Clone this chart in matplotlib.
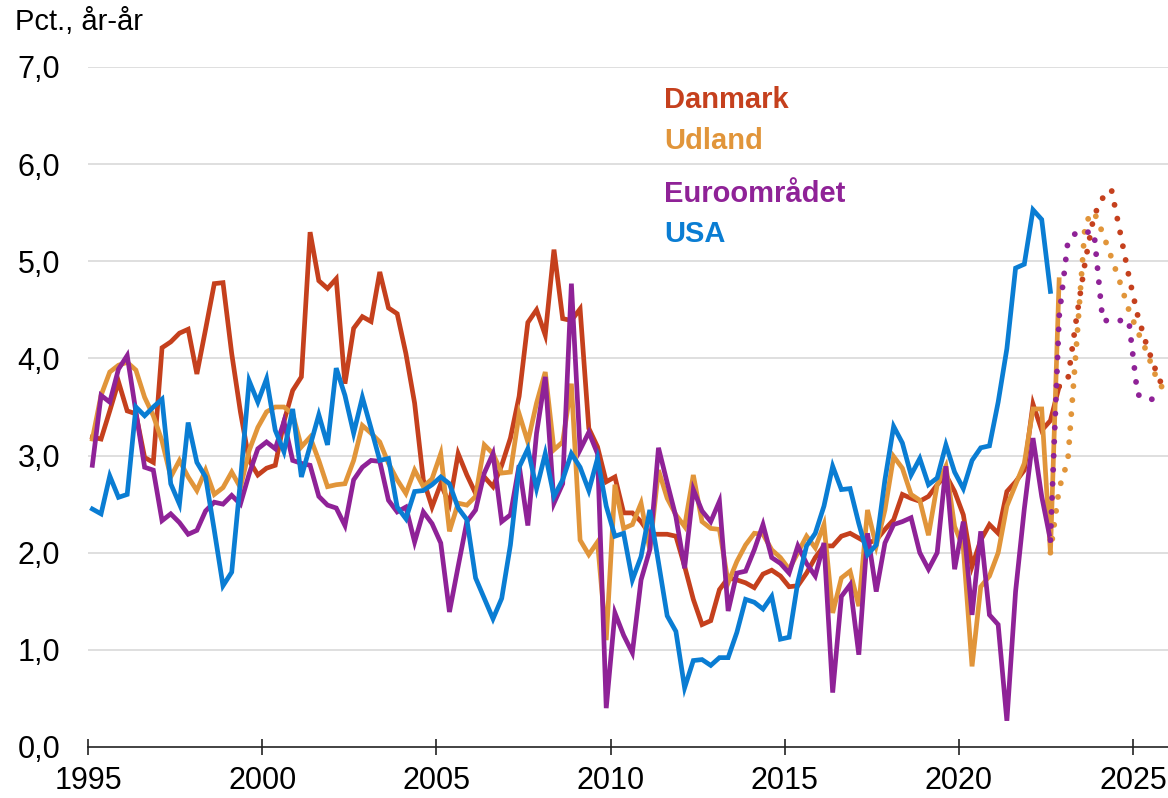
import numpy as np
import matplotlib.pyplot as plt

plt.rcParams['font.family'] = ['Liberation Sans', 'DejaVu Sans']

# kvartalsvise vaekstrater, 1995K1 og frem
danmark = [3.19, 3.17, 3.46, 3.76, 3.46, 3.43, 2.98, 2.93, 4.11, 4.17,
           4.26, 4.30, 3.84, 4.30, 4.77, 4.78, 4.05, 3.45, 2.95, 2.80,
           2.87, 2.90, 3.35, 3.67, 3.81, 5.30, 4.80, 4.72, 4.82, 3.74,
           4.31, 4.43, 4.38, 4.89, 4.52, 4.46, 4.05, 3.54, 2.75, 2.47,
           2.71, 2.50, 3.02, 2.80, 2.61, 2.78, 2.68, 2.90, 3.18, 3.61,
           4.37, 4.50, 4.24, 5.12, 4.41, 4.39, 4.51, 3.28, 3.09, 2.73,
           2.78, 2.41, 2.41, 2.32, 2.19, 2.19, 2.19, 2.17, 1.86, 1.52,
           1.26, 1.30, 1.62, 1.74, 1.72, 1.69, 1.64, 1.78, 1.82, 1.76,
           1.65, 1.66, 1.79, 1.95, 2.07, 2.07, 2.17, 2.20, 2.15, 2.10,
           2.13, 2.24, 2.34, 2.60, 2.56, 2.53, 2.58, 2.70, 2.80, 2.63,
           2.39, 1.86, 2.13, 2.29, 2.20, 2.63, 2.73, 2.85, 3.53, 3.26,
           3.36, 3.71]
udland = [3.17, 3.62, 3.86, 3.93, 3.96, 3.88, 3.60, 3.41, 3.15, 2.78,
          2.95, 2.78, 2.64, 2.85, 2.60, 2.67, 2.83, 2.67, 3.05, 3.29,
          3.45, 3.50, 3.50, 3.43, 3.09, 3.19, 2.95, 2.68, 2.70, 2.71,
          2.95, 3.31, 3.23, 3.14, 2.92, 2.75, 2.61, 2.85, 2.68, 2.76,
          3.02, 2.22, 2.51, 2.49, 2.58, 3.11, 3.02, 2.82, 2.83, 3.43,
          3.14, 3.54, 3.86, 3.06, 3.14, 3.74, 2.13, 1.98, 2.11, 1.10,
          2.70, 2.25, 2.29, 2.51, 2.03, 2.85, 2.56, 2.39, 2.27, 2.80,
          2.32, 2.25, 2.24, 1.69, 1.91, 2.08, 2.20, 2.19, 2.03, 1.95,
          1.83, 2.00, 2.17, 2.05, 2.29, 1.38, 1.74, 1.81, 1.45, 2.44,
          2.07, 2.44, 2.99, 2.87, 2.60, 2.54, 2.18, 2.70, 2.89, 2.27,
          2.05, 0.83, 1.65, 1.76, 2.00, 2.48, 2.70, 2.92, 3.48, 3.48,
          2.00, 4.81]
euro = [2.90, 3.62, 3.55, 3.89, 4.03, 3.45, 2.88, 2.85, 2.33, 2.40,
        2.31, 2.19, 2.23, 2.43, 2.52, 2.50, 2.59, 2.50, 2.81, 3.07,
        3.14, 3.07, 3.35, 2.95, 2.92, 2.90, 2.58, 2.49, 2.46, 2.28,
        2.75, 2.88, 2.95, 2.94, 2.54, 2.42, 2.47, 2.11, 2.42, 2.30,
        2.10, 1.39, 1.86, 2.32, 2.44, 2.82, 3.02, 2.32, 2.39, 2.90,
        2.28, 3.23, 3.81, 2.51, 2.71, 4.77, 3.06, 3.24, 3.02, 0.40,
        1.38, 1.15, 0.97, 1.72, 2.03, 3.08, 2.72, 2.37, 1.84, 2.65,
        2.43, 2.32, 2.53, 1.40, 1.79, 1.81, 2.03, 2.29, 1.95, 1.89,
        1.79, 2.07, 1.89, 1.76, 2.10, 0.56, 1.55, 1.67, 0.95, 2.20,
        1.60, 2.10, 2.29, 2.32, 2.36, 2.00, 1.83, 2.00, 2.89, 1.83,
        2.32, 1.36, 2.22, 1.36, 1.26, 0.27, 1.60, 2.45, 3.18, 2.58,
        2.13]
usa = [2.45, 2.40, 2.79, 2.57, 2.60, 3.50, 3.41, 3.50, 3.58, 2.71,
       2.50, 3.34, 2.93, 2.78, 2.23, 1.66, 1.80, 2.74, 3.77, 3.55,
       3.79, 3.26, 3.04, 3.48, 2.78, 3.10, 3.42, 3.11, 3.90, 3.62,
       3.23, 3.60, 3.28, 2.95, 2.97, 2.47, 2.35, 2.63, 2.64, 2.70,
       2.78, 2.71, 2.46, 2.34, 1.74, 1.53, 1.32, 1.53, 2.08, 2.88,
       3.07, 2.66, 3.02, 2.58, 2.75, 3.02, 2.88, 2.64, 2.97, 2.48,
       2.17, 2.20, 1.72, 1.96, 2.44, 1.90, 1.35, 1.19, 0.61, 0.89,
       0.90, 0.84, 0.92, 0.92, 1.18, 1.52, 1.49, 1.42, 1.55, 1.11,
       1.13, 1.70, 2.07, 2.20, 2.48, 2.89, 2.65, 2.66, 2.30, 1.98,
       2.08, 2.75, 3.30, 3.13, 2.80, 2.97, 2.70, 2.77, 3.11, 2.83,
       2.66, 2.95, 3.08, 3.10, 3.55, 4.10, 4.93, 4.97, 5.53, 5.43,
       4.69]

# prognoser (stiplede), startkvartal angivet som indeks fra 1995K1
danmark_prog_start = 111
danmark_prog = [3.71, 3.78, 4.42, 5.00, 5.47, 5.65, 5.74, 5.30, 4.85,
                4.45, 4.15, 3.90, 3.68]
udland_prog_start = 110
udland_prog = [2.00, 2.66, 2.95, 4.15, 5.40, 5.51, 5.29, 5.04, 4.78,
               4.50, 4.28, 4.08, 3.84, 3.67]
euro_prog_start = 110
euro_prog = [2.13, 4.43, 5.20, 5.30, 5.30, 5.30, 4.39, 4.39, 4.39,
             4.39, 3.63, 3.58, 3.58]

names = ['Danmark', 'Udland', 'Euroområdet', 'USA']
colors = ['#C5401D', '#E1953A', '#8F2297', '#0A7DD3']
year_ticks = [1995, 2000, 2005, 2010, 2015, 2020, 2025]


def qx(start, n):
    # kvartal -> decimalaar, midt i kvartalet
    return 1995 + 0.125 + 0.25 * (start + np.arange(n))


fig = plt.figure(figsize=(11.68, 7.98), dpi=100)
ax = fig.add_axes([88 / 1168, 51 / 798, 1080 / 1168, 680 / 798])

for y in range(1, 8):
    ax.axhline(y, color='#d9d9d9', lw=1.2, zorder=0)

solid = [danmark, udland, euro, usa]
for vals, c in zip(solid, colors):
    ax.plot(qx(0, len(vals)), vals, color=c, lw=3.4,
            solid_joinstyle='miter', zorder=2)

prog = [(danmark_prog_start, danmark_prog, colors[0]),
        (udland_prog_start, udland_prog, colors[1]),
        (euro_prog_start, euro_prog, colors[2])]
for start, vals, c in prog:
    ax.plot(qx(start, len(vals)), vals, color=c, lw=4.2,
            linestyle=(0, (0.01, 2.4)), dash_capstyle='round',
            zorder=3, clip_on=False)

ax.set_xlim(1995, 2026)
ax.set_ylim(0, 7)
ax.set_yticks(range(8))
ax.set_yticklabels([f'{v},0' for v in range(8)])
ax.set_xticks(year_ticks)
ax.set_xticklabels([str(y) for y in year_ticks])

for s in ['top', 'right', 'left']:
    ax.spines[s].set_visible(False)
ax.spines['bottom'].set_color('#222222')
ax.spines['bottom'].set_linewidth(1.2)

ax.tick_params(axis='y', length=0, pad=20, labelsize=22)
ax.tick_params(axis='x', direction='inout', length=12, width=1.2,
               color='#222222', pad=8, labelsize=22)

fig.text(15 / 1168, 1 - 30 / 798, 'Pct., år-år', fontsize=21,
         va='baseline', ha='left')

legend_y = [108, 149, 202, 242]
for name, c, yb in zip(names, colors, legend_y):
    fig.text(664 / 1168, 1 - yb / 798, name, color=c, fontsize=21,
             fontweight='bold', va='baseline', ha='left')

fig.savefig('out.png', dpi=100)
